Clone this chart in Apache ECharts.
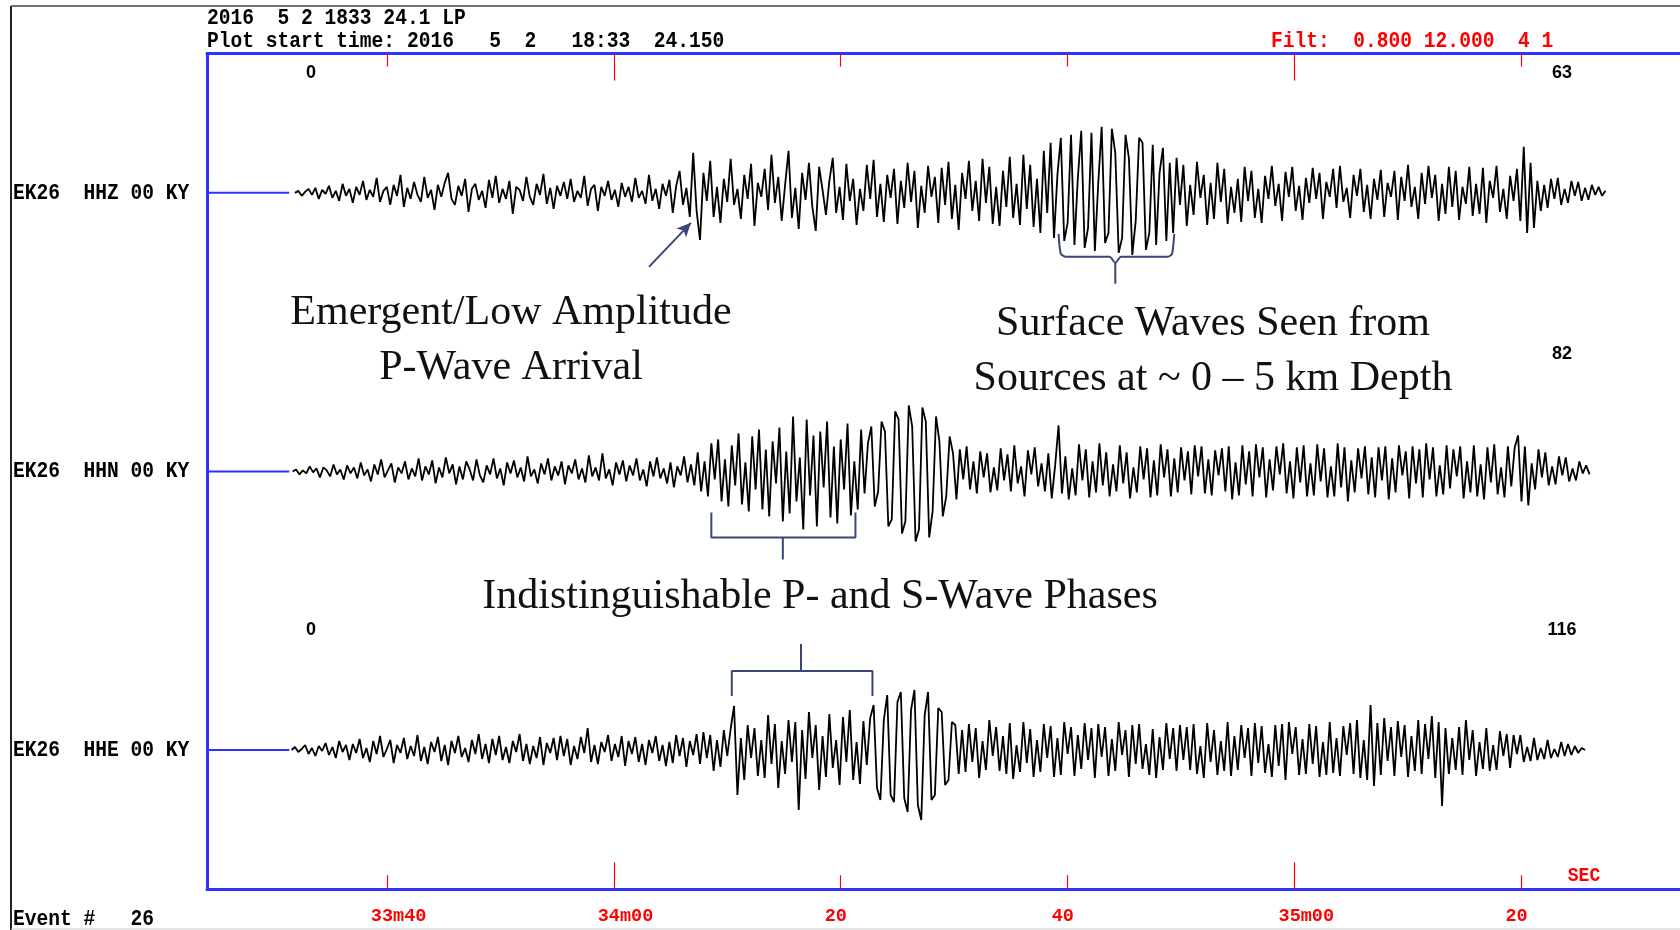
<!DOCTYPE html>
<html><head><meta charset="utf-8">
<script src="https://cdn.jsdelivr.net/npm/echarts@6/dist/echarts.min.js"></script>
<style>html,body{margin:0;padding:0;background:#fff}#c{width:1680px;height:930px}</style>
</head><body><div id="c"></div>
<script>
// ---------- DATA ----------
const tickValues = [40, 60, 80, 100, 120, 140];
const tickLabels = ['33m40', '34m00', '20', '40', '35m00', '20'];
const shortTickValues = [40, 80, 100, 140];
const longTickValues = [60, 120];
const plotStart = 24.15;      // seconds after 18:33:00
const plotEnd = 153.97;
const headerLine1 = '2016  5 2 1833 24.1 LP';
const headerLine2 = 'Plot start time: 2016   5  2   18:33  24.150';
const filterText = 'Filt:  0.800 12.000  4 1';
const eventText = 'Event #   26';
const channelNames = ['EK26  HHZ 00 KY', 'EK26  HHN 00 KY', 'EK26  HHE 00 KY'];
const leftAmpLabels = ['0', '', '0'];
const rightAmpLabels = ['63', '82', '116'];
const traceStarts = [31.9, 31.7, 31.6];
const stubEnd = 31.4;
const sampleInterval = 0.3;

const hhz = [
0,2,-3,1,4,-2,5,-6,3,-1,7,-5,2,-8,9,-3,4,-10,6,-2,
12,-7,3,-4,15,-9,2,6,-12,8,-3,18,-14,5,-6,11,-2,-9,16,-5,
3,-17,8,-4,10,20,-6,-12,7,-3,14,-19,4,9,-7,2,-15,13,-5,17,
-10,4,-6,12,-21,6,3,-8,16,-4,-12,9,-2,19,-11,5,-16,7,-3,11,
-6,14,-9,2,-5,17,-13,4,8,-18,6,-3,12,-7,3,-14,10,-4,6,-9,
15,-5,2,-11,18,-8,4,-16,9,-3,13,-20,7,22,-12,5,-24,40,-18,-47,
20,-8,32,-24,6,-30,14,-9,34,-12,4,-26,18,-6,29,-33,10,-4,24,-17,
38,-10,16,-28,8,42,-25,5,-36,20,-7,30,-14,-38,26,3,-22,12,35,-20,
6,-27,29,-8,14,-32,4,-18,28,-6,33,-24,9,-29,18,-5,24,-31,12,-15,
30,-9,22,-35,7,-20,27,-4,16,-30,25,-12,31,-26,8,-37,20,-6,32,-18,
12,-28,34,-10,26,-31,6,-33,22,-14,36,-25,9,-32,38,-16,28,-34,14,-40,
42,-20,50,-45,18,55,-48,-30,58,-52,15,62,-55,-35,60,-58,10,66,-50,-40,
64,40,-60,-45,58,35,-62,-28,55,50,-57,-40,48,-52,20,45,-48,30,-40,35,
-12,28,-33,8,-22,31,-5,18,-32,10,-26,30,-9,24,-31,6,-20,14,-29,26,
-8,22,-25,4,-30,17,-6,27,-13,9,-28,21,-4,26,-18,7,-27,15,-10,25,
-6,20,-26,11,-4,24,-15,27,-9,5,-25,18,-3,24,-19,8,-26,14,-7,23,
-24,10,-4,22,-27,16,-8,28,-14,6,-26,20,-11,27,-5,18,-28,9,-21,26,
-14,22,-27,6,-11,26,-23,9,-21,25,-30,12,-5,27,-19,4,-26,17,-8,24,
-28,46,-40,30,-35,12,-18,8,-15,14,-6,15,-12,4,-10,12,-3,11,-8,5,
-7,8,-2,6,-3,2
];
const hhn = [
0,2,-3,1,-2,5,-1,3,-6,4,1,-5,7,-3,2,-8,6,-2,4,-7,
9,-4,2,-10,7,-3,12,-6,1,8,-11,4,-2,10,-8,3,-5,13,-9,5,
-3,11,-12,4,-6,14,-2,7,-13,5,-8,10,2,-9,12,-4,-11,6,-3,13,
-7,3,-14,9,-2,11,-6,4,-10,15,-5,2,-12,8,-3,13,-9,5,-4,10,
-13,6,-2,12,-8,3,-11,16,-5,4,-9,18,-7,2,-14,9,-3,11,-10,6,
-4,13,-9,2,-15,10,-5,14,-7,3,-12,9,-16,5,-4,15,-11,7,-14,19,
-20,10,-25,28,-8,32,-30,12,-35,26,-14,38,-33,9,-40,35,-18,42,-38,22,
-45,30,-12,44,-50,20,-42,55,-30,14,-58,52,-24,36,-55,40,-16,50,-46,25,
-52,32,-18,48,-44,10,-38,42,-22,28,45,-35,-20,50,40,-55,-48,60,52,-62,
-50,66,45,-70,-58,64,50,-66,-40,55,30,-45,-25,35,18,-28,22,-8,25,-18,
10,-22,20,-6,18,-21,4,-19,23,-9,17,-20,26,-12,5,-25,21,-3,24,-15,
8,-20,18,-27,6,46,-22,15,-28,3,-24,27,-9,22,-26,10,-21,28,-14,19,
-25,7,-20,26,-12,19,-27,4,-21,25,-8,23,-26,11,-24,27,-6,22,-25,13,
-21,24,-9,20,-23,26,-5,25,-22,12,-24,21,-4,23,-20,25,-28,9,-24,26,
-13,20,-25,27,-6,24,-26,12,-19,25,-3,28,-22,10,-27,24,-11,26,-25,8,
-24,27,-10,23,-26,5,-25,28,-16,24,-30,11,-21,23,-7,25,-23,14,-26,24,
-9,25,-28,13,-21,26,-4,20,-27,25,-12,22,-26,28,-8,24,-25,6,-23,26,
-17,22,-5,25,-27,10,-21,26,-25,7,-28,24,-11,27,-23,4,-26,25,-15,24,
36,-30,25,-34,8,-18,22,-6,19,-14,5,-13,15,-4,14,-10,3,-9,10,-2,
6,-3
];
const hhe = [
0,3,-2,1,5,-4,2,-6,4,-1,7,-5,3,-8,9,-2,5,-10,6,-3,
11,-8,2,-12,9,-4,14,-7,1,10,-13,5,-3,12,-9,4,-6,15,-11,3,
-14,8,-2,13,-11,5,-15,9,-3,14,-7,2,-12,10,-4,16,-9,6,-13,11,
-5,14,-10,3,-13,9,-2,16,-11,6,-14,4,-8,13,-15,7,-3,12,-10,14,
-6,11,-15,4,-9,13,-3,22,-12,5,-14,8,-2,15,-11,6,-7,14,-16,9,
-4,13,-12,6,-15,10,-3,14,-11,5,-16,8,-13,15,-6,12,-17,9,-5,16,
-14,18,-8,15,-21,10,-17,20,-6,21,44,-45,12,-30,25,-8,22,-26,10,-28,
35,-14,26,-38,9,-24,30,-12,28,-60,20,-29,38,-8,25,-40,14,-27,36,-18,
10,-35,33,-12,40,-30,8,-34,29,-15,32,45,-38,-50,30,55,-45,-52,48,58,
-48,-62,40,60,-55,-70,35,58,-50,-45,42,38,-35,-30,28,25,-24,20,-22,26,
-12,22,-28,9,-20,30,-6,23,-21,14,-24,27,-29,5,-22,28,-13,21,-27,10,
-22,26,-8,24,-27,12,-25,28,-4,23,-26,15,-19,27,-10,22,-28,26,-7,23,
-26,11,-21,28,-5,20,-27,25,-14,26,-19,6,-25,21,-28,13,-20,27,-9,22,
-21,25,-10,23,-20,26,-24,4,-28,27,-12,20,-25,9,-21,28,-26,14,-20,25,
-8,22,-26,27,-13,24,-23,6,-27,25,-16,26,-30,28,-4,23,-25,11,-24,26,
-14,24,-27,8,-25,28,-23,12,-26,24,-5,27,-24,30,-28,10,-30,45,-36,27,
-25,32,-11,23,-26,29,-7,25,-27,14,-21,30,-24,26,-9,34,-28,28,-56,22,
-24,12,-20,23,-25,30,-10,20,-26,8,-19,22,-21,5,-20,19,-6,16,-18,15,
-4,15,-12,3,-11,12,-10,2,-9,10,-8,1,-7,8,-6,6,-5,4,-3,2,
0
];

// annotation geometry in data units (seconds, trace amplitude)
const bracketSurface = [[99.2,-41],[99.4,-61],[99.9,-64],[103.7,-64],[104.2,-70],[104.7,-64],[108.8,-64],[109.2,-61],[109.4,-41]];
const bracketSurfaceStem = [[104.2,-70],[104.2,-91]];
const bracketHHN = [[68.6,-41],[68.6,-66],[81.3,-66],[81.3,-41]];
const bracketHHNStem = [[74.9,-66],[74.9,-88]];
const bracketHHE = [[70.4,54],[70.4,79],[82.8,79],[82.8,54]];
const bracketHHEStem = [[76.5,79],[76.5,106]];
const arrowFrom = [63.1,-74];
const arrowTo = [66.8,-30];

// ---------- CHART ----------
const chart = echarts.init(document.getElementById('c'), null, {renderer: 'canvas'});
const BLUE = '#3030ff', RED = '#ff0000', ANN = '#3a4676';
const MONO = "'Liberation Mono','DejaVu Sans Mono',monospace";
const SERIF = "'Liberation Serif','Times New Roman',serif";
const boxLeft = 207, boxTop = 53.6, boxBottom = 889.3, boxWidth = 1473;
const baselines = [192.86, 471.43, 750];
const halfH = 150;

const grids = [{left: boxLeft, top: boxTop, width: boxWidth, height: boxBottom - boxTop}];
baselines.forEach(b => grids.push({left: boxLeft, top: b - halfH, width: boxWidth, height: 2 * halfH}));

function tickAxis(pos, values, len, withLabels) {
  return {
    gridIndex: 0, type: 'value', position: pos, min: plotStart, max: plotEnd,
    axisLine: {show: withLabels, lineStyle: {color: BLUE, width: 3}},
    axisTick: {show: true, inside: true, length: len, customValues: values, lineStyle: {color: RED, width: 1.2}},
    axisLabel: withLabels && pos === 'bottom' ? {
      show: true, customValues: tickValues, color: RED, fontFamily: MONO, fontWeight: 'bold', fontSize: 18.5,
      margin: 18, align: 'left', padding: [0, 0, 0, -16],
      formatter: v => { const i = tickValues.indexOf(Math.round(v)); return i >= 0 ? tickLabels[i] : ''; }
    } : {show: false},
    splitLine: {show: false}
  };
}
const xAxes = [
  tickAxis('bottom', shortTickValues, 14, true),
  tickAxis('bottom', longTickValues, 27, false),
  tickAxis('top', shortTickValues, 13, true),
  tickAxis('top', longTickValues, 27, false)
];
const yAxes = [{gridIndex: 0, type: 'value', min: 0, max: 1, position: 'left',
  axisLine: {show: true, lineStyle: {color: BLUE, width: 3}}, axisTick: {show: false}, axisLabel: {show: false}, splitLine: {show: false}}];
for (let k = 0; k < 3; k++) {
  xAxes.push({gridIndex: k + 1, type: 'value', min: plotStart, max: plotEnd, show: false});
  yAxes.push({gridIndex: k + 1, type: 'value', min: -halfH, max: halfH, show: false});
}

const traces = [hhz, hhn, hhe];
const series = [];
traces.forEach((vals, k) => {
  series.push({type: 'line', xAxisIndex: 4 + k, yAxisIndex: 1 + k, data: [[plotStart, 0], [stubEnd, 0]],
    symbol: 'none', lineStyle: {color: BLUE, width: 2}, silent: true});
  series.push({type: 'line', xAxisIndex: 4 + k, yAxisIndex: 1 + k,
    data: vals.map((v, i) => [traceStarts[k] + i * sampleInterval, v]),
    symbol: 'none', sampling: 'none', lineStyle: {color: '#000', width: 1.8}, silent: true});
});
function ann(axisK, data, extra) {
  return Object.assign({type: 'line', xAxisIndex: 4 + axisK, yAxisIndex: 1 + axisK, data: data,
    symbol: 'none', lineStyle: {color: ANN, width: 2}, silent: true}, extra || {});
}
series.push(ann(0, bracketSurface, {smooth: 0.2}));
series.push(ann(0, bracketSurfaceStem));
series.push(ann(1, bracketHHN));
series.push(ann(1, bracketHHNStem));
series.push(ann(2, bracketHHE));
series.push(ann(2, bracketHHEStem));
series.push(ann(0, [], {markLine: {silent: true, symbol: ['none', 'arrow'], symbolSize: [10, 14],
  lineStyle: {color: ANN, width: 2, type: 'solid'}, label: {show: false},
  data: [[{coord: arrowFrom}, {coord: arrowTo}]]}}));

const g = [];
function txt(x, y, s, o, sy) {
  g.push({type: 'text', x: x, y: y, scaleY: sy || 1, silent: true, style: Object.assign({text: s, fill: '#000',
    font: 'bold 19.6px ' + MONO, textAlign: 'left', textVerticalAlign: 'middle'}, o || {})});
}
txt(boxLeft, 18, headerLine1, null, 1.15);
txt(boxLeft, 41, headerLine2, null, 1.15);
txt(1271, 41, filterText, {fill: RED}, 1.15);
channelNames.forEach((n, k) => txt(13, baselines[k], n, null, 1.15));
txt(13, 919, eventText, null, 1.15);
txt(1584, 876, 'SEC', {fill: RED, textAlign: 'center', font: 'bold 18px ' + MONO}, 1.15);
const ampY = [73, 354, 630];
ampY.forEach((y, k) => {
  if (leftAmpLabels[k]) txt(311, y, leftAmpLabels[k], {textAlign: 'center', font: 'bold 18px "Liberation Sans",Arial,sans-serif'});
  txt(1562, y, rightAmpLabels[k], {textAlign: 'center', font: 'bold 18px "Liberation Sans",Arial,sans-serif'});
});
const annFont = '42px ' + SERIF;
txt(511, 313, 'Emergent/Low Amplitude', {textAlign: 'center', font: annFont, fill: '#111'});
txt(511, 368, 'P-Wave Arrival', {textAlign: 'center', font: annFont, fill: '#111'});
txt(1213, 324, 'Surface Waves Seen from', {textAlign: 'center', font: annFont, fill: '#111'});
txt(1213, 379, 'Sources at ~ 0 \u2013 5 km Depth', {textAlign: 'center', font: annFont, fill: '#111'});
txt(820, 597, 'Indistinguishable P- and S-Wave Phases', {textAlign: 'center', font: annFont, fill: '#111'});
// outer frame
g.push({type: 'line', silent: true, shape: {x1: 11, y1: 6, x2: 11, y2: 930}, style: {stroke: '#222', lineWidth: 2}});
g.push({type: 'line', silent: true, shape: {x1: 11, y1: 6, x2: 1680, y2: 6}, style: {stroke: '#444', lineWidth: 1.5}});
g.push({type: 'line', silent: true, shape: {x1: 11, y1: 929, x2: 1680, y2: 929}, style: {stroke: '#ccc', lineWidth: 1}});

chart.setOption({
  animation: false, backgroundColor: '#fff',
  grid: grids, xAxis: xAxes, yAxis: yAxes, series: series, graphic: g
});
</script></body></html>
